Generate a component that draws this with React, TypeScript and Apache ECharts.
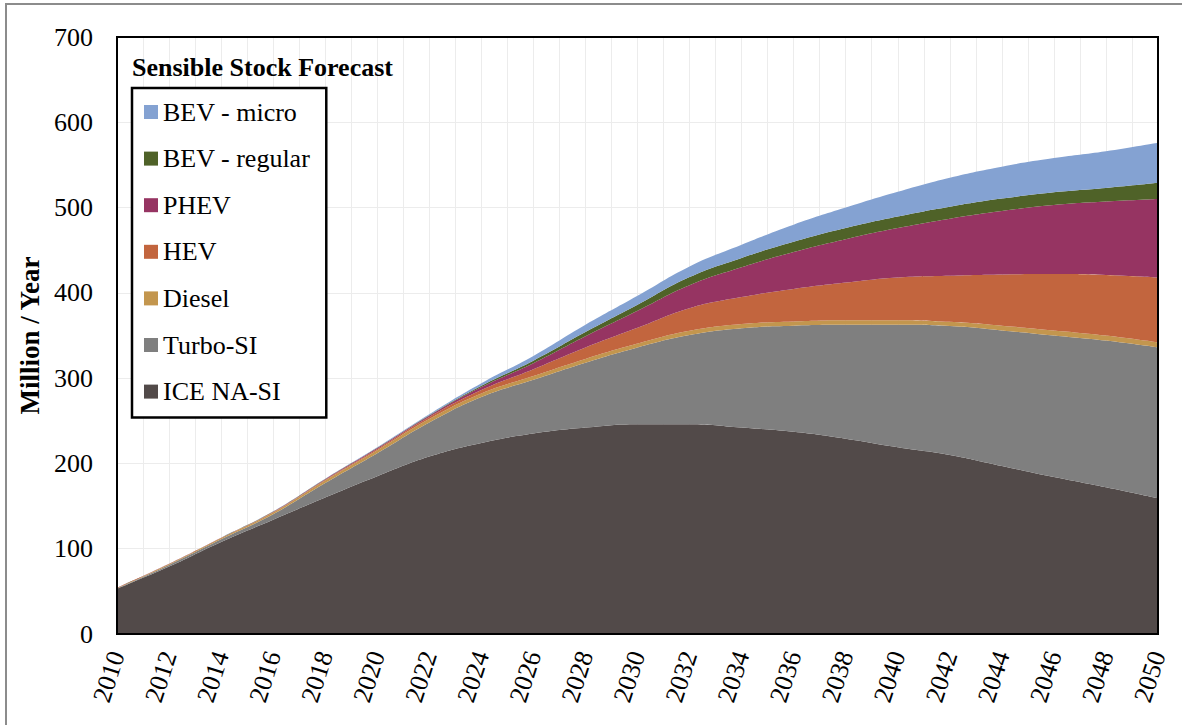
import React, { useEffect, useRef } from "react";
import * as echarts from "echarts";

const years = ["2010", "2012", "2014", "2016", "2018", "2020", "2022", "2024", "2026", "2028", "2030", "2032", "2034", "2036", "2038", "2040", "2042", "2044", "2046", "2048", "2050"];
const iceNaSi = [53, 79, 108, 134, 160, 185, 208, 224, 235, 242, 246, 246, 242, 237, 229, 219, 210, 197, 184, 172, 159];
const turboSi = [0.6, 2, 3, 6.5, 17, 27, 40, 54, 63, 76, 90, 104.5, 116.5, 124.5, 133.5, 143.5, 151, 159, 166, 172, 177];
const diesel = [0.4, 1, 1.5, 2, 3, 3.5, 4, 4, 4.5, 4.5, 4.5, 5, 5, 5, 5.5, 5.5, 5, 5.5, 6, 6, 6];
const hev = [0.1, 0.2, 0.2, 0.5, 1, 1.5, 2.5, 4, 8, 13.5, 18.5, 26.5, 31.5, 38, 44, 50, 54, 60, 66, 71, 76];
const phev = [0.1, 0.1, 0.1, 0.3, 0.5, 1, 1.5, 3.5, 7, 13, 20, 27, 35, 43.5, 51, 58, 67, 74.5, 81, 86, 92];
const bevRegular = [0, 0.1, 0.1, 0.2, 0.2, 0.3, 0.5, 1.5, 3, 5, 7, 9.5, 11, 12, 13, 13.5, 14, 14.5, 15, 16, 19];
const bevMicro = [0.1, 0.1, 0.1, 0.3, 0.4, 0.7, 1.2, 3, 5.5, 8.5, 10.5, 12.5, 15.5, 20, 24, 29, 34, 37.5, 40, 43, 47];

const seriesNames = ["ICE NA-SI", "Turbo-SI", "Diesel", "HEV", "PHEV", "BEV - regular", "BEV - micro"];
const seriesValues = [iceNaSi, turboSi, diesel, hev, phev, bevRegular, bevMicro];
const seriesColors = ["#524a49", "#7f7f7f", "#c3964e", "#c2653e", "#963462", "#4f6228", "#84a2d2"];
const legendOrder = ["BEV - micro", "BEV - regular", "PHEV", "HEV", "Diesel", "Turbo-SI", "ICE NA-SI"];

const FONT = "'Liberation Serif', 'Times New Roman', serif";

export default function App() {
  const ref = useRef<HTMLDivElement>(null);
  useEffect(() => {
    if (!ref.current) return;
    const chart = echarts.init(ref.current, undefined, { renderer: "svg" });
    const gridLeft = 117, gridTop = 37, gridRight = 24, gridBottom = 91;
    chart.setOption({
      animation: false,
      backgroundColor: "#ffffff",
      title: {
        text: "Sensible Stock Forecast",
        left: 127,
        top: 49,
        textStyle: { fontFamily: FONT, fontSize: 26, fontWeight: "bold", color: "#000" },
      },
      legend: {
        orient: "vertical",
        left: 132,
        top: 88,
        data: legendOrder,
        icon: "rect",
        itemWidth: 14,
        itemHeight: 14,
        itemGap: 20.6,
        padding: [11, 16, 13, 12],
        borderColor: "#000",
        borderWidth: 2.5,
        backgroundColor: "#fff",
        textStyle: { fontFamily: FONT, fontSize: 26, color: "#000", lineHeight: 26 },
      },
      grid: { left: gridLeft, right: gridRight, top: gridTop, bottom: gridBottom, show: false },
      xAxis: [
        {
          type: "category",
          data: years,
          boundaryGap: false,
          axisLine: { show: true, lineStyle: { color: "#000", width: 2 } },
          axisTick: { show: false },
          splitLine: { show: false },
          axisLabel: {
            interval: 0,
            rotate: 72,
            margin: 18,
            fontFamily: FONT,
            fontSize: 26,
            color: "#000",
          },
        },
        {
          type: "value",
          min: 2010,
          max: 2050,
          interval: 1,
          position: "bottom",
          axisLine: { show: false },
          axisTick: { show: false },
          axisLabel: { show: false },
          splitLine: { show: true, lineStyle: { color: "#ececec", width: 1 } },
        },
      ],
      yAxis: {
        type: "value",
        min: 0,
        max: 700,
        interval: 100,
        name: "Million / Year",
        nameLocation: "middle",
        nameGap: 73,
        nameTextStyle: { fontFamily: FONT, fontSize: 27, fontWeight: "bold", color: "#000" },
        axisLine: { show: true, lineStyle: { color: "#000", width: 2 } },
        axisTick: { show: false },
        splitLine: { show: true, lineStyle: { color: "#ececec", width: 1 } },
        axisLabel: { margin: 24, fontFamily: FONT, fontSize: 26, color: "#000" },
      },
      graphic: [
        {
          type: "rect",
          z: 100,
          silent: true,
          shape: { x: 6, y: 4, width: 1200, height: 800 },
          style: { fill: "none", stroke: "#8c8c8c", lineWidth: 2 },
        },
        {
          type: "rect",
          z: 100,
          silent: true,
          shape: { x: gridLeft, y: gridTop, width: 1182 - gridLeft - gridRight, height: 725 - gridTop - gridBottom },
          style: { fill: "none", stroke: "#000", lineWidth: 2 },
        },
      ],
      series: seriesNames.map((name, i) => ({
        name,
        type: "line",
        xAxisIndex: 0,
        stack: "total",
        smooth: 0.45,
        symbol: "none",
        lineStyle: { width: 0 },
        itemStyle: { color: seriesColors[i] },
        areaStyle: { color: seriesColors[i], opacity: 1 },
        data: seriesValues[i],
      })),
    });
    return () => chart.dispose();
  }, []);
  return <div ref={ref} style={{ position: "fixed", left: 0, top: 0, width: 1182, height: 725 }} />;
}
